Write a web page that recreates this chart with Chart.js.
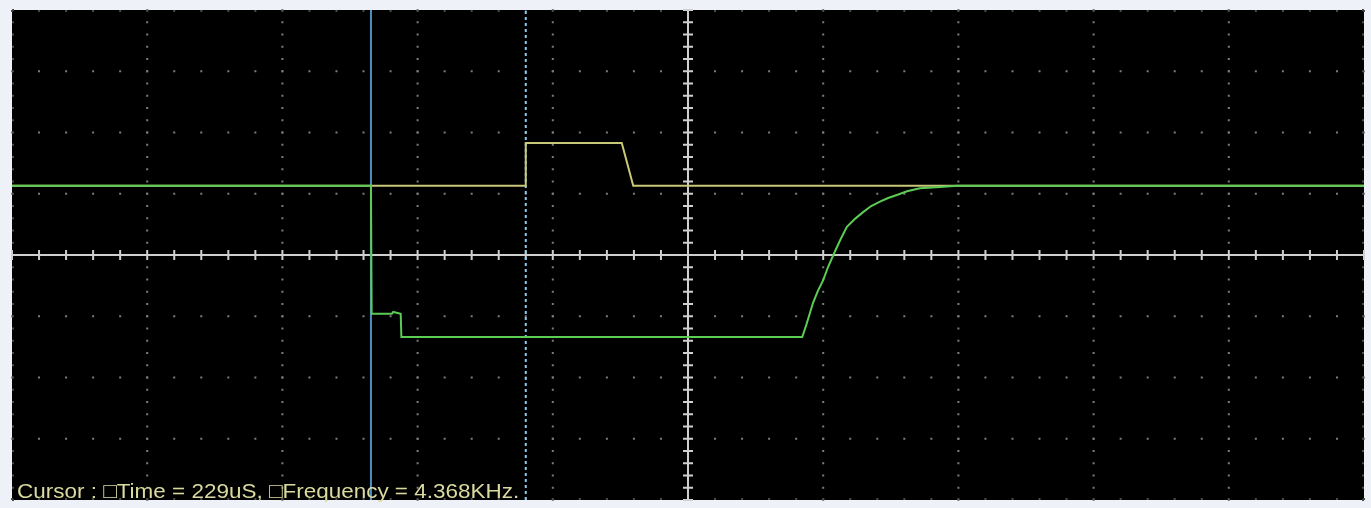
<!DOCTYPE html>
<html>
<head>
<meta charset="utf-8">
<script src="https://cdn.jsdelivr.net/npm/chart.js@4"></script>
<style>
  body { margin: 0; background: #eef1f8; }
  canvas { display: block; }
</style>
</head>
<body>
<canvas id="scope" width="1371" height="508"></canvas>
<script>
// time in uS (200 uS / div), amplitude in divisions
const ch1Time = [-1000, -240, -240, -98, -81, 1000];
const ch1Level = [1.13, 1.13, 1.83, 1.83, 1.13, 1.13];

const ch2Time = [-1000, -469, -468, -438, -436, -425, -424, 169, 175, 185, 192, 200, 207, 215, 225, 235, 247, 259, 271, 284, 296, 309, 324, 343, 373, 398, 1000];
const ch2Level = [1.13, 1.13, -0.96, -0.96, -0.93, -0.96, -1.34, -1.34, -1.14, -0.78, -0.59, -0.41, -0.20, 0, 0.24, 0.46, 0.59, 0.70, 0.80, 0.87, 0.93, 0.98, 1.04, 1.09, 1.11, 1.13, 1.13];

const cursorTimes = [-469, -240];
const cursorText = 'Cursor : \u25A1Time = 229uS, \u25A1Frequency = 4.368KHz.';

function toPoints(xs, ys) {
    let pts = [];
    for (let i = 0; i < xs.length; i++) {
        pts.push({x: xs[i], y: ys[i]});
    }
    return pts;
}

const scopeGrid = {
    id: 'scopeGrid',
    beforeDatasetsDraw(chart) {
        const ctx = chart.ctx;
        const a = chart.chartArea;
        const sx = chart.scales.x;
        const sy = chart.scales.y;
        ctx.save();
        ctx.fillStyle = '#000';
        ctx.fillRect(a.left, a.top, a.right - a.left, a.bottom - a.top);

        // dotted divisions
        ctx.fillStyle = '#7c7c7c';
        for (let t = -800; t <= 800; t += 200) {
            if (t === 0) continue;
            let px = sx.getPixelForValue(t);
            for (let v = -4; v <= 4.001; v += 0.2) {
                ctx.fillRect(px - 1, sy.getPixelForValue(v) - 1, 2, 2);
            }
        }
        for (let v = -3; v <= 3; v++) {
            if (v === 0) continue;
            let py = sy.getPixelForValue(v);
            for (let t = -1000; t <= 1000; t += 40) {
                ctx.fillRect(sx.getPixelForValue(t) - 1, py - 1, 2, 2);
            }
        }

        // faint edge ticks
        ctx.fillStyle = '#4a4a4a';
        for (let t = -1000; t <= 1000; t += 40) {
            let px = sx.getPixelForValue(t);
            ctx.fillRect(px - 1, a.top, 2, 2);
            ctx.fillRect(px - 1, a.bottom - 2, 2, 2);
        }
        for (let v = -4; v <= 4.001; v += 0.2) {
            let py = sy.getPixelForValue(v);
            ctx.fillRect(a.left, py - 1, 2, 2);
            ctx.fillRect(a.right - 2, py - 1, 2, 2);
        }

        // centre cross
        const cx = sx.getPixelForValue(0);
        const cy = sy.getPixelForValue(0);
        ctx.strokeStyle = '#cfcfcf';
        ctx.lineWidth = 2;
        ctx.beginPath();
        ctx.moveTo(a.left, cy);
        ctx.lineTo(a.right, cy);
        ctx.moveTo(cx, a.top);
        ctx.lineTo(cx, a.bottom);
        ctx.stroke();
        ctx.fillStyle = '#cfcfcf';
        for (let t = -1000; t <= 1000; t += 40) {
            ctx.fillRect(sx.getPixelForValue(t) - 1, cy - 5, 2, 10);
        }
        for (let v = -4; v <= 4.001; v += 0.2) {
            ctx.fillRect(cx - 5, sy.getPixelForValue(v) - 1, 10, 2);
        }
        ctx.restore();
    },
    afterDatasetsDraw(chart) {
        const ctx = chart.ctx;
        const a = chart.chartArea;
        ctx.save();
        ctx.fillStyle = '#dadaa0';
        ctx.font = '21px "Liberation Sans", Arial, sans-serif';
        ctx.textBaseline = 'alphabetic';
        ctx.translate(a.left + 5, a.bottom - 2);
        ctx.scale(1.07, 1);
        ctx.fillText(cursorText, 0, 0);
        ctx.restore();
    }
};

// lower order is drawn on top
const datasets = [
    {
        data: toPoints(ch2Time, ch2Level),
        borderColor: '#5ccc55',
        borderWidth: 2,
        order: 0
    },
    {
        data: toPoints(ch1Time, ch1Level),
        borderColor: '#c8c878',
        borderWidth: 2,
        order: 1
    },
    {
        data: toPoints([cursorTimes[0], cursorTimes[0]], [-4, 4]),
        borderColor: '#4f8fc0',
        borderWidth: 2,
        order: 2
    },
    {
        data: toPoints([cursorTimes[1], cursorTimes[1]], [-4, 4]),
        borderColor: '#8cc8e8',
        borderWidth: 2,
        borderDash: [3, 3],
        order: 3
    }
];

new Chart(document.getElementById('scope'), {
    type: 'line',
    data: { datasets: datasets },
    options: {
        responsive: false,
        animation: false,
        layout: { padding: { left: 12, top: 10, right: 7, bottom: 8 } },
        elements: { point: { radius: 0 }, line: { tension: 0 } },
        scales: {
            x: { type: 'linear', min: -1000, max: 1000, display: false },
            y: { min: -4, max: 4, display: false }
        },
        plugins: {
            legend: { display: false },
            tooltip: { enabled: false }
        }
    },
    plugins: [scopeGrid]
});
</script>
</body>
</html>
